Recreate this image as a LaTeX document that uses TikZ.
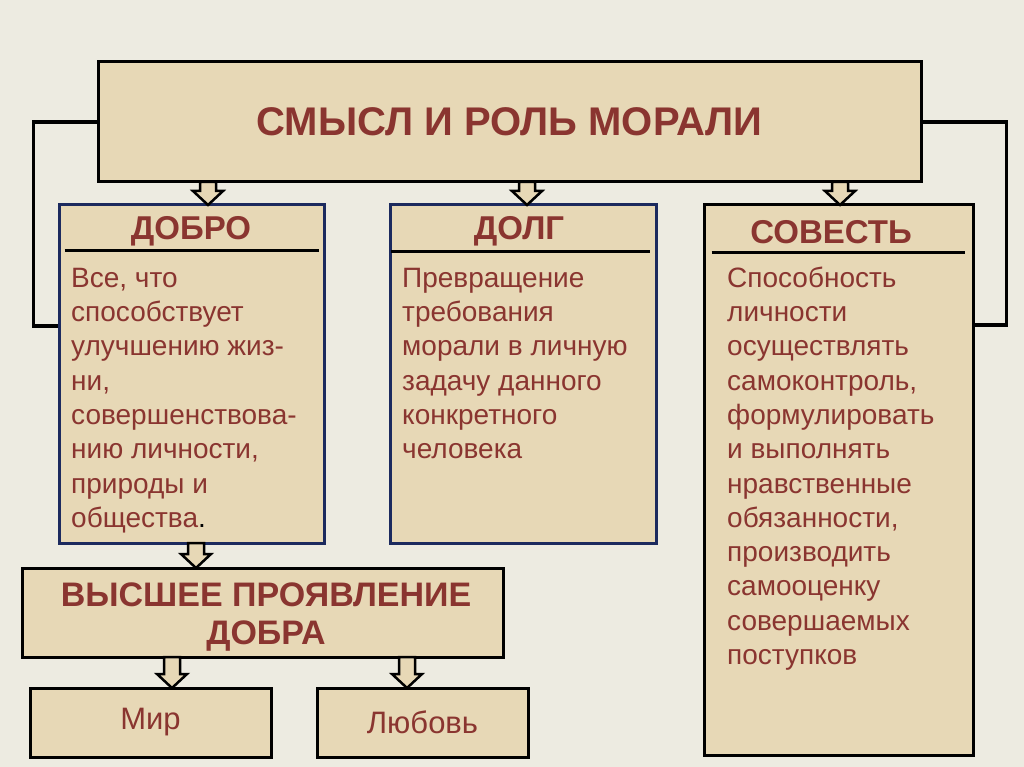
\documentclass[tikz,border=0pt]{standalone}
\usepackage{fontspec}
\setmainfont{Liberation Sans}
\usetikzlibrary{calc}
\definecolor{bgc}{HTML}{EDEBE1}
\definecolor{parch}{HTML}{E7D8B6}
\definecolor{txtred}{HTML}{8A3530}
\definecolor{navy}{HTML}{1C2A5E}
\tikzset{
  box/.style={draw=black, line width=3pt, fill=parch, inner sep=0pt},
  navybox/.style={box, draw=navy},
  bigtitle/.style={font=\bfseries\fontsize{40}{44}\selectfont, text=txtred},
  headtitle/.style={font=\bfseries\fontsize{33}{38}\selectfont, text=txtred, inner sep=0pt},
  bodytext/.style={font=\fontsize{28}{34.3}\selectfont, text=txtred, align=left, inner sep=0pt, anchor=north west},
  leaftext/.style={font=\fontsize{31}{34}\selectfont, text=txtred},
  conn/.style={draw=black, line width=3.5pt},
  sepline/.style={draw=black, line width=3pt},
  barrowstyle/.style={draw=black, line width=2.5pt, fill=parch, line join=miter}
}
\newcommand{\barrow}[3]{\draw[barrowstyle] (#1-8,#2) -- (#1+8,#2) -- (#1+8,#3-14) -- (#1+15,#3-14) -- (#1,#3) -- (#1-15,#3-14) -- (#1-8,#3-14) -- cycle;}
\newcommand{\firststrut}{\rule{0pt}{24pt}}
\begin{document}
\begin{tikzpicture}[x=1pt,y=-1pt]
\fill[bgc] (0,0) rectangle (1024,767);
\useasboundingbox (0,0) rectangle (1024,767);

\node[box, minimum width=823pt, minimum height=120pt, bigtitle] (top) at (509.5,122) {СМЫСЛ И РОЛЬ МОРАЛИ};
\node[navybox, minimum width=265pt, minimum height=338pt] (dobro) at (191.5,374) {};
\node[navybox, minimum width=266pt, minimum height=338pt] (dolg) at (523,374) {};
\node[box, minimum width=269pt, minimum height=550pt] (sovest) at (838.5,480) {};
\node[box, minimum width=481pt, minimum height=89pt] (vyssh) at (262.5,612.5) {};
\node[box, minimum width=241pt, minimum height=69pt, leaftext] (mir) at (150.5,722.5) {Мир};
\node[box, minimum width=211pt, minimum height=69pt, leaftext] (lub) at (422.5,722.5) {Любовь};

% connectors
\draw[conn] (top.west) -- ++(-63pt,0) |- ([yshift=48pt]dobro.west);
\draw[conn] (top.east) -- ++(84pt,0) |- ([yshift=155pt]sovest.east);

% block arrows
\barrow{208}{182}{205}
\barrow{527}{182}{205}
\barrow{840}{182}{205}
\barrow{196}{543}{568}
\barrow{172}{657}{688}
\barrow{407}{657}{688}

% titles
\node[headtitle] (tdobro) at (191,231) {ДОБРО};
\node[headtitle] (tdolg) at (519,231) {ДОЛГ};
\node[headtitle] (tsovest) at (831,232) {СОВЕСТЬ};
\node[headtitle, font=\bfseries\fontsize{34}{38}\selectfont, align=center] (tvyssh) at (266,617) {ВЫСШЕЕ ПРОЯВЛЕНИЕ\\ДОБРА};

% separators
\draw[sepline] ($(dobro.north west)+(7,47)$) -- ($(dobro.north east)+(-7,47)$);
\draw[sepline] ($(dolg.north west)+(2,48)$) -- ($(dolg.north east)+(-8,48)$);
\draw[sepline] ($(sovest.north west)+(9,49)$) -- ($(sovest.north east)+(-10,49)$);

% body texts
\node[bodytext] (bdobro) at (71,263) {\firststrut Все, что\\способствует\\улучшению жиз-\\ни,\\совершенствова-\\нию личности,\\природы и\\общества\textcolor{black}{.}};
\node[bodytext] (bdolg) at (402,263) {\firststrut Превращение\\требования\\морали в личную\\задачу данного\\конкретного\\человека};
\node[bodytext] (bsovest) at (727,263) {\firststrut Способность\\личности\\осуществлять\\самоконтроль,\\формулировать\\и выполнять\\нравственные\\обязанности,\\производить\\самооценку\\совершаемых\\поступков};
\end{tikzpicture}
\end{document}
